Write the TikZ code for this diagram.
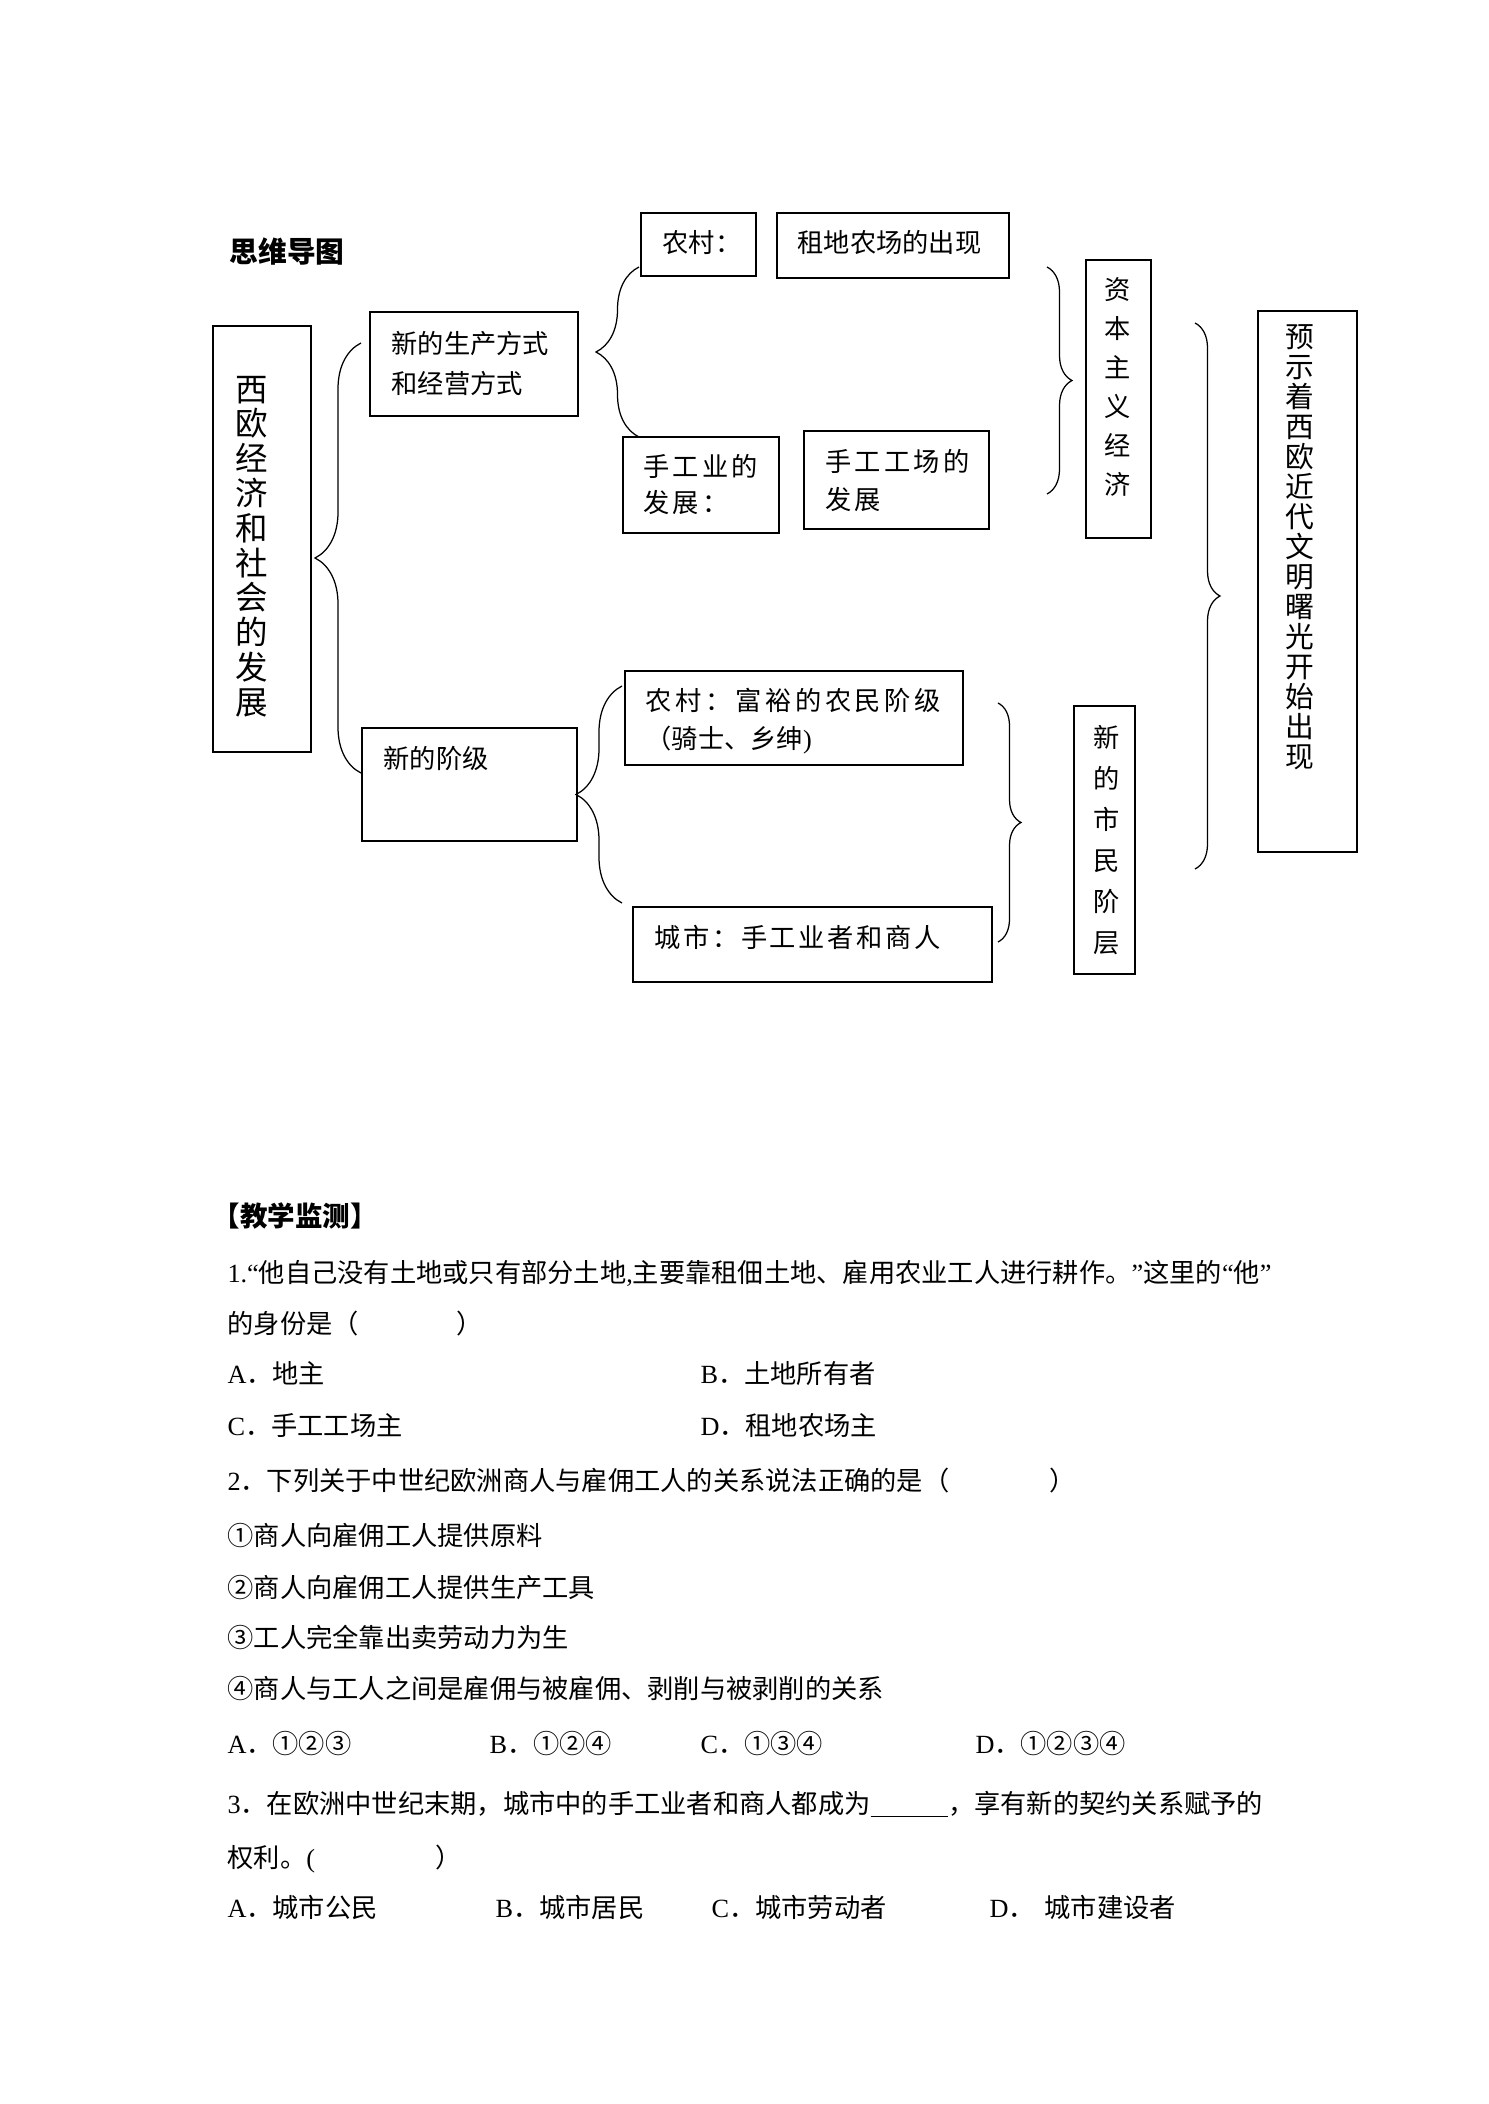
\documentclass[tikz,border=0pt]{standalone}
\usepackage{fontspec}
\setmainfont{Liberation Serif}
\newfontfamily\cjk{Noto Sans CJK SC}
\usetikzlibrary{decorations.pathreplacing}

\begin{document}
\begin{tikzpicture}[x=0.4pt, y=-0.4pt,
  box/.style={draw, line width=0.6pt, inner sep=0pt},
  lbl/.style={anchor=base west, inner sep=0pt, font=\cjk\fontsize{10.5pt}{15pt}\selectfont},
  mlbl/.style={anchor=west, inner sep=0pt, align=left},
  vtxt/.style={inner sep=0pt, align=center},
  brc/.style={decorate, decoration={brace, amplitude=#1}, line width=0.5pt}]
  \useasboundingbox (0,0) rectangle (1488,2104);

  % title
  \node[lbl, font=\cjk\bfseries\fontsize{11.5pt}{13pt}\selectfont] (title) at (229,263) {思维导图};

  % boxes
  \node[box, minimum width=39.2pt, minimum height=170.4pt] (xiou) at (262,539) {};
  \node[box, minimum width=83.2pt, minimum height=41.6pt] (shengchan) at (474,364) {};
  \node[box, minimum width=46pt, minimum height=25.2pt] (nongcun) at (698.5,244.5) {};
  \node[box, minimum width=92.8pt, minimum height=26pt] (zudi) at (893,245.5) {};
  \node[box, minimum width=62.4pt, minimum height=38.4pt] (shougongye) at (701,485) {};
  \node[box, minimum width=74pt, minimum height=39.2pt] (gongchang) at (896.5,480) {};
  \node[box, minimum width=26pt, minimum height=111.2pt] (ziben) at (1118.5,399) {};
  \node[box, minimum width=39.6pt, minimum height=216.4pt] (yushi) at (1307.5,581.5) {};
  \node[box, minimum width=86pt, minimum height=45.2pt] (jieji) at (469.5,784.5) {};
  \node[box, minimum width=135.2pt, minimum height=37.6pt] (funong) at (794,718) {};
  \node[box, minimum width=143.6pt, minimum height=30pt] (chengshi) at (812.5,944.5) {};
  \node[box, minimum width=24.4pt, minimum height=107.2pt] (shimin) at (1104.5,840) {};

  % box texts
  \node[vtxt, font=\cjk\fontsize{13pt}{13.92pt}\selectfont] (xiou-t) at (252,546.5)
    {西\\欧\\经\\济\\和\\社\\会\\的\\发\\展};
  \node[mlbl, font=\cjk\fontsize{10.5pt}{16pt}\selectfont] (shengchan-t) at (391,363)
    {新的生产方式\\和经营方式};
  \node[lbl] (nongcun-t) at (662,253) {农村：};
  \node[lbl] (zudi-t) at (797,253) {租地农场的出现};
  \node[mlbl, font=\cjk\fontsize{10.5pt}{14.4pt}\selectfont\addfontfeature{LetterSpace=12}] (shougongye-t) at (643,485)
    {手工业的\\发展：};
  \node[mlbl, font=\cjk\fontsize{10.5pt}{15.2pt}\selectfont\addfontfeature{LetterSpace=12}] (gongchang-t) at (825,481)
    {手工工场的\\发展};
  \node[vtxt, font=\cjk\fontsize{10.5pt}{15.6pt}\selectfont] (ziben-t) at (1118,386.5)
    {资\\本\\主\\义\\经\\济};
  \node[vtxt, font=\cjk\fontsize{11.5pt}{12pt}\selectfont] (yushi-t) at (1300,547.5)
    {预\\示\\着\\西\\欧\\近\\代\\文\\明\\曙\\光\\开\\始\\出\\现};
  \node[lbl] (jieji-t) at (383,768) {新的阶级};
  \node[mlbl, font=\cjk\fontsize{10.5pt}{15.2pt}\selectfont] (funong-t) at (645,721)
    {{\addfontfeature{LetterSpace=14}农村：富裕的农民阶级}\\（骑士、乡绅{\rmfamily )}};
  \node[lbl, font=\cjk\fontsize{10.5pt}{15pt}\selectfont\addfontfeature{LetterSpace=10}] (chengshi-t) at (654,947)
    {城市：手工业者和商人};
  \node[vtxt, font=\cjk\fontsize{10.5pt}{16.4pt}\selectfont] (shimin-t) at (1107,840)
    {新\\的\\市\\民\\阶\\层};

  % braces
  \coordinate (b1s) at (361,773); \coordinate (b1e) at (361,343);
  \coordinate (b2s) at (639,437); \coordinate (b2e) at (639,267);
  \coordinate (b3s) at (622,903); \coordinate (b3e) at (622,686);
  \coordinate (b4s) at (1047,267); \coordinate (b4e) at (1047,494);
  \coordinate (b5s) at (998,703); \coordinate (b5e) at (998,942);
  \coordinate (b6s) at (1195,323); \coordinate (b6e) at (1195,869);
  \draw[brc=18.4pt] (b1s) -- (b1e);
  \draw[brc=17.2pt] (b2s) -- (b2e);
  \draw[brc=18.4pt] (b3s) -- (b3e);
  \draw[brc=10pt] (b4s) -- (b4e);
  \draw[brc=9.2pt] (b5s) -- (b5e);
  \draw[brc=10pt] (b6s) -- (b6e);

  % questions
  \node[lbl, font=\cjk\bfseries\fontsize{11pt}{15pt}\selectfont] (jc) at (212,1226) {【教学监测】};
  \node[lbl] (q1) at (227,1282) {{\rmfamily 1.“}他自己没有土地或只有部分土地{\rmfamily ,}主要靠租佃土地、雇用农业工人进行耕作。{\rmfamily ”}这里的{\rmfamily “}他{\rmfamily ”}};
  \node[lbl] (q1b) at (227,1333) {的身份是（\hspace{39pt}）};
  \node[lbl] (q1A) at (227,1383) {{\rmfamily A}．地主};
  \node[lbl] (q1B) at (700,1383) {{\rmfamily B}．土地所有者};
  \node[lbl] (q1C) at (227,1435) {{\rmfamily C}．手工工场主};
  \node[lbl] (q1D) at (700,1435) {{\rmfamily D}．租地农场主};
  \node[lbl] (q2) at (227,1490) {{\rmfamily 2}．下列关于中世纪欧洲商人与雇佣工人的关系说法正确的是（\hspace{40pt}）};
  \node[lbl] (s1) at (227,1545) {①商人向雇佣工人提供原料};
  \node[lbl] (s2) at (227,1597) {②商人向雇佣工人提供生产工具};
  \node[lbl] (s3) at (227,1647) {③工人完全靠出卖劳动力为生};
  \node[lbl] (s4) at (227,1698) {④商人与工人之间是雇佣与被雇佣、剥削与被剥削的关系};
  \node[lbl] (q2A) at (227,1753) {{\rmfamily A}．①②③};
  \node[lbl] (q2B) at (489,1753) {{\rmfamily B}．①②④};
  \node[lbl] (q2C) at (700,1753) {{\rmfamily C}．①③④};
  \node[lbl] (q2D) at (975,1753) {{\rmfamily D}．①②③④};
  \node[lbl] (q3) at (227,1813) {{\rmfamily 3}．在欧洲中世纪末期，城市中的手工业者和商人都成为\underline{\makebox[31pt]{}}，享有新的契约关系赋予的};
  \node[lbl] (q3b) at (227,1867) {权利。{\rmfamily (}\hspace{48pt}）};
  \node[lbl] (q3A) at (227,1917) {{\rmfamily A}．城市公民};
  \node[lbl] (q3B) at (495,1917) {{\rmfamily B}．城市居民};
  \node[lbl] (q3C) at (711,1917) {{\rmfamily C}．城市劳动者};
  \node[lbl] (q3D) at (989,1917) {{\rmfamily D}．\hspace{4pt}城市建设者};
\end{tikzpicture}
\end{document}
